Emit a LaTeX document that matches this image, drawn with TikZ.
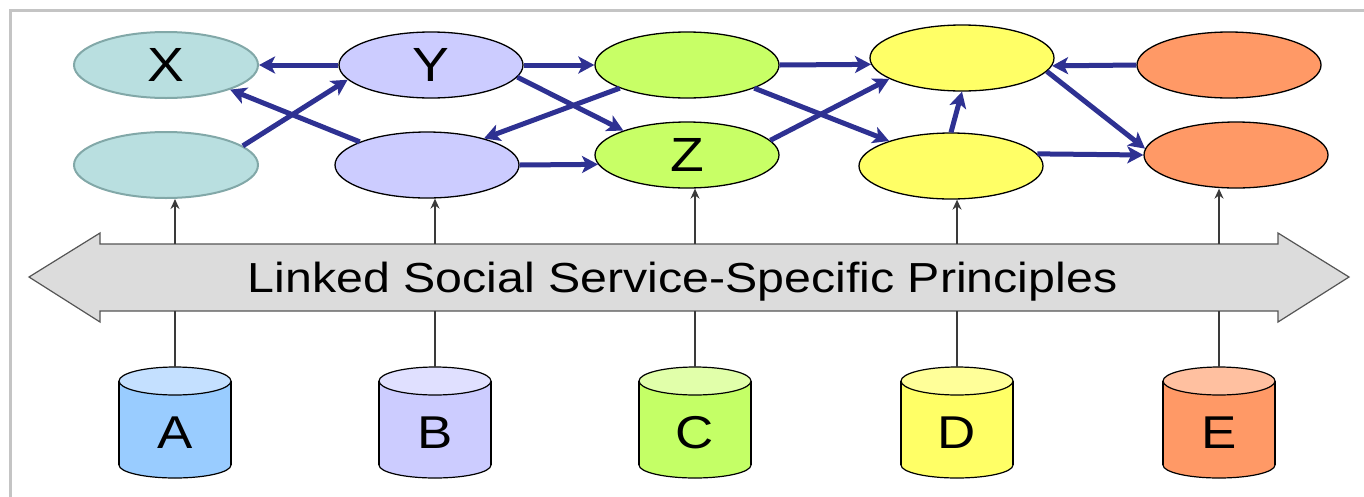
\documentclass[tikz,border=0pt]{standalone}
\usepackage{fontspec}
\setmainfont{Liberation Sans}[FakeStretch=1.15]
\usetikzlibrary{shapes.geometric,arrows.meta,calc}

\definecolor{cFrame}{HTML}{C4C4C4}
\definecolor{cTeal}{HTML}{B9DFE0}
\definecolor{cTealEdge}{HTML}{82A8A8}
\definecolor{cLav}{HTML}{CCCCFF}
\definecolor{cGreen}{HTML}{C8FF66}
\definecolor{cYellow}{HTML}{FFFF66}
\definecolor{cOrange}{HTML}{FF9966}
\definecolor{cFlow}{HTML}{2E3192}
\definecolor{cLine}{HTML}{3A3A3A}
\definecolor{cBar}{HTML}{DCDCDC}
\definecolor{cBarEdge}{HTML}{555555}
\definecolor{cABody}{HTML}{99CCFF}
\definecolor{cATop}{HTML}{C4E0FF}
\definecolor{cBBody}{HTML}{CCCCFF}
\definecolor{cBTop}{HTML}{E0E0FF}
\definecolor{cCBody}{HTML}{C4FF66}
\definecolor{cCTop}{HTML}{E1FFAA}
\definecolor{cDBody}{HTML}{FFFF66}
\definecolor{cDTop}{HTML}{FFFF99}
\definecolor{cEBody}{HTML}{FF9966}
\definecolor{cETop}{HTML}{FFC0A0}

\begin{document}
\begin{tikzpicture}[x=1pt,y=-1pt,
  ell/.style={ellipse, draw=black, line width=1.3pt, minimum width=184pt,
    minimum height=66pt, inner sep=0pt, font=\fontsize{48}{50}\selectfont},
  tealell/.style={ell, draw=cTealEdge, line width=2pt, fill=cTeal},
  flow/.style={draw=cFlow, line width=5pt,
    -{Stealth[length=16pt,width=17pt,inset=4pt]}},
  feed/.style={draw=cLine, line width=1.4pt, -{Stealth[length=10pt,width=9pt]}},
  link/.style={draw=cLine, line width=1.4pt},
  dbtext/.style={font=\fontsize{46}{48}\selectfont, anchor=base, inner sep=0pt},
]
\useasboundingbox (0,0) rectangle (1364,496);

% outer frame
\draw[cFrame, line width=3pt] (1380,10) -- (10,10) -- (10,510);

% service nodes
\node[tealell] (X) at (166,65) {X};
\node[tealell] (T2) at (166,165) {};
\node[ell, fill=cLav] (Y) at (431,65) {Y};
\node[ell, fill=cLav] (P2) at (427,165) {};
\node[ell, fill=cGreen] (G1) at (687,65) {};
\node[ell, fill=cGreen] (Z) at (687,155) {Z};
\node[ell, fill=cYellow] (Y1) at (962,58) {};
\node[ell, fill=cYellow] (Y2) at (951,166) {};
\node[ell, fill=cOrange] (O1) at (1229,65) {};
\node[ell, fill=cOrange] (O2) at (1236,155) {};

% links between services
\draw[flow] (Y.west) -- (X.east);
\draw[flow] (T2.14.6) -- (Y.190.5);
\draw[flow] (P2.161) -- (X.339.5);
\draw[flow] (Y.east) -- (G1.west);
\draw[flow] (Y.352) -- (Z.159);
\draw[flow] (G1.199.5) -- (P2.25);
\draw[flow] (P2.east) -- (Z.186.5);
\draw[flow] (G1.341) -- (Y2.158.5);
\draw[flow] (G1.east) -- (Y1.184.5);
\draw[flow] (Z.10) -- (Y1.196);
\draw[flow] (Y2.north) -- (Y1.south);
\draw[flow] (O1.west) -- (Y1.355.5);
\draw[flow] (Y1.351) -- (O2.176);
\draw[flow] (Y2.8) -- (O2.west);

% principles band (double arrow)
\node[minimum width=1320pt, minimum height=67pt, inner sep=0pt] (bar) at (689,277.5) {};
\draw[fill=cBar, draw=cBarEdge, line width=1.2pt]
  (29,277) -- (100,233) -- (100,244) -- (1278,244) -- (1278,233) -- (1349,277)
  -- (1278,322) -- (1278,311) -- (100,311) -- (100,322) -- cycle;
\node[font=\fontsize{42}{44}\selectfont, anchor=base, inner sep=0pt] (barlabel)
  at (682.5,292) {Linked Social Service-Specific Principles};

% data stores
\foreach \nm/\x/\cb/\ct in {A/175/cABody/cATop, B/435/cBBody/cBTop,
    C/695/cCBody/cCTop, D/957/cDBody/cDTop, E/1219/cEBody/cETop} {
  \filldraw[fill=\cb, draw=black, line width=1.2pt] (\x,465) ellipse [x radius=56, y radius=13];
  \fill[\cb] (\x-56,381) rectangle (\x+56,465);
  \draw[line width=1.2pt] (\x-56,381) -- (\x-56,465) (\x+56,381) -- (\x+56,465);
  \filldraw[fill=\ct, draw=black, line width=1.2pt] (\x,381) ellipse [x radius=56, y radius=14];
  \node[dbtext] (\nm) at (\x,448) {\nm};
  \coordinate (\nm top) at (\x,367);
}

% store-to-band and band-to-service connectors
\foreach \nm/\e in {A/T2, B/P2, C/Z, D/Y2, E/O2} {
  \draw[link] (\nm top) -- (\nm top |- bar.south);
  \draw[feed] (\nm top |- bar.north) -- (\nm top |- \e.south);
}
\end{tikzpicture}
\end{document}
